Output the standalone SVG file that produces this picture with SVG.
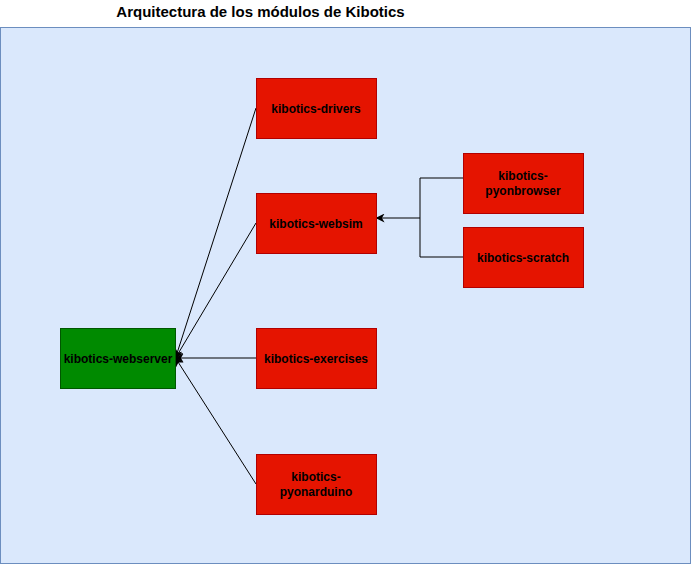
<svg xmlns="http://www.w3.org/2000/svg" width="691" height="564" viewBox="0 0 691 564">
<defs>
<style>
.red{fill:#e51400;stroke:#b20000;stroke-width:1}
.green{fill:#008a00;stroke:#005700;stroke-width:1}
.lbl{font-family:"Liberation Sans",Arial,sans-serif;font-size:12px;font-weight:bold;fill:#000;text-anchor:middle}
.edge{fill:none;stroke:#000;stroke-width:1}
</style>
<marker id="arr" viewBox="0 0 10 10" refX="9" refY="5" markerWidth="9" markerHeight="9" orient="auto" markerUnits="userSpaceOnUse">
<path d="M0,0 L10,5 L0,10 L3,5 Z" fill="#000"/>
</marker>
</defs>
<rect width="691" height="564" fill="#fff"/>
<g id="container">
<rect x="0.5" y="27.5" width="690" height="536" fill="#dae8fc" stroke="#6c8ebf"/>
<text x="260.5" y="17" font-family="Liberation Sans,Arial,sans-serif" font-size="15" font-weight="bold" text-anchor="middle">Arquitectura de los módulos de Kibotics</text>
</g>
<g id="connectors">
<path class="edge" d="M256,108 L175.5,358" marker-end="url(#arr)"/>
<path class="edge" d="M256,223 L175.5,358" marker-end="url(#arr)"/>
<path class="edge" d="M256,358 L175.5,358" marker-end="url(#arr)"/>
<path class="edge" d="M256,484 L175.5,358" marker-end="url(#arr)"/>
<path class="edge" d="M468,178 L420,178 L420,218 L376.5,218" marker-end="url(#arr)"/>
<path class="edge" d="M468,257 L420,257 L420,218"/>
</g>
<g id="webserver">
<rect class="green" x="60.5" y="328.5" width="115" height="60"/>
<text class="lbl" x="118" y="363">kibotics-webserver</text>
</g>
<g id="drivers">
<rect class="red" x="256.5" y="78.5" width="120" height="60"/>
<text class="lbl" x="316" y="113">kibotics-drivers</text>
</g>
<g id="websim">
<rect class="red" x="256.5" y="193.5" width="120" height="60"/>
<text class="lbl" x="316" y="228">kibotics-websim</text>
</g>
<g id="exercises">
<rect class="red" x="256.5" y="328.5" width="120" height="60"/>
<text class="lbl" x="316" y="363">kibotics-exercises</text>
</g>
<g id="pyonarduino">
<rect class="red" x="256.5" y="454.5" width="120" height="60"/>
<text class="lbl" x="316" y="481">kibotics-</text>
<text class="lbl" x="316" y="496">pyonarduino</text>
</g>
<g id="pyonbrowser">
<rect class="red" x="463.5" y="153.5" width="120" height="60"/>
<text class="lbl" x="523" y="180">kibotics-</text>
<text class="lbl" x="523" y="195">pyonbrowser</text>
</g>
<g id="scratch">
<rect class="red" x="463.5" y="227.5" width="120" height="60"/>
<text class="lbl" x="523" y="262">kibotics-scratch</text>
</g>
</svg>
